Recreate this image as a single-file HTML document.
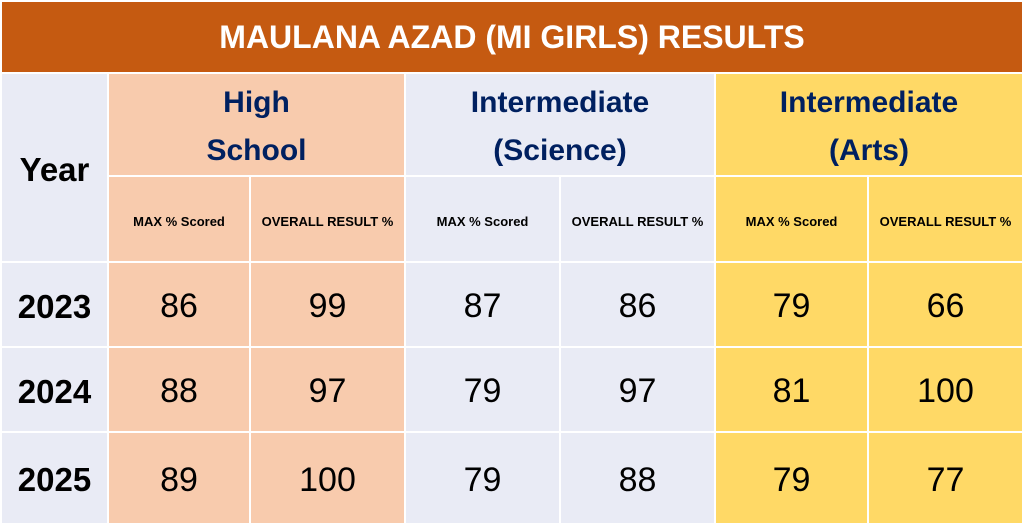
<!DOCTYPE html>
<html><head><meta charset="utf-8"><style>
body{margin:0;width:1024px;height:527px;background:#fff;position:relative;overflow:hidden;font-family:"Liberation Sans",sans-serif}
.c{position:absolute;display:flex;align-items:center;justify-content:center;text-align:center;box-sizing:border-box}
.t{background:#C55A11;color:#fff;font-weight:bold;font-size:32px}
.y{background:#E9EBF5}.h{background:#F8CBAD}.s{background:#E9EBF5}.a{background:#FFD966}
.g{color:#002060;font-weight:bold;font-size:30px;line-height:48px;padding-top:4px}
.sub{font-size:13px;font-weight:bold;color:#000;padding-top:4px}
.n{font-size:34px;color:#000;padding-top:4px}
.yr{font-size:33px;font-weight:bold;color:#000;padding-top:4px}
</style></head><body>
<div class="c t" style="left:2px;top:2px;width:1020px;height:70px">MAULANA AZAD (MI GIRLS) RESULTS</div>
<div class="c y yr" style="left:2px;top:74px;width:105px;height:187px">Year</div>
<div class="c h g" style="left:109px;top:74px;width:295px;height:101px">High<br>School</div>
<div class="c s g" style="left:406px;top:74px;width:308px;height:101px">Intermediate<br>(Science)</div>
<div class="c a g" style="left:716px;top:74px;width:306px;height:101px">Intermediate<br>(Arts)</div>

<div class="c h sub" style="left:109px;top:177px;width:140px;height:84px">MAX % Scored</div>
<div class="c h sub" style="left:251px;top:177px;width:153px;height:84px">OVERALL RESULT %</div>
<div class="c s sub" style="left:406px;top:177px;width:153px;height:84px">MAX % Scored</div>
<div class="c s sub" style="left:561px;top:177px;width:153px;height:84px">OVERALL RESULT %</div>
<div class="c a sub" style="left:716px;top:177px;width:151px;height:84px">MAX % Scored</div>
<div class="c a sub" style="left:869px;top:177px;width:153px;height:84px">OVERALL RESULT %</div>

<div class="c y yr" style="left:2px;top:263px;width:105px;height:83px">2023</div>
<div class="c h n" style="left:109px;top:263px;width:140px;height:83px">86</div>
<div class="c h n" style="left:251px;top:263px;width:153px;height:83px">99</div>
<div class="c s n" style="left:406px;top:263px;width:153px;height:83px">87</div>
<div class="c s n" style="left:561px;top:263px;width:153px;height:83px">86</div>
<div class="c a n" style="left:716px;top:263px;width:151px;height:83px">79</div>
<div class="c a n" style="left:869px;top:263px;width:153px;height:83px">66</div>

<div class="c y yr" style="left:2px;top:348px;width:105px;height:83px">2024</div>
<div class="c h n" style="left:109px;top:348px;width:140px;height:83px">88</div>
<div class="c h n" style="left:251px;top:348px;width:153px;height:83px">97</div>
<div class="c s n" style="left:406px;top:348px;width:153px;height:83px">79</div>
<div class="c s n" style="left:561px;top:348px;width:153px;height:83px">97</div>
<div class="c a n" style="left:716px;top:348px;width:151px;height:83px">81</div>
<div class="c a n" style="left:869px;top:348px;width:153px;height:83px">100</div>

<div class="c y yr" style="left:2px;top:433px;width:105px;height:90px">2025</div>
<div class="c h n" style="left:109px;top:433px;width:140px;height:90px">89</div>
<div class="c h n" style="left:251px;top:433px;width:153px;height:90px">100</div>
<div class="c s n" style="left:406px;top:433px;width:153px;height:90px">79</div>
<div class="c s n" style="left:561px;top:433px;width:153px;height:90px">88</div>
<div class="c a n" style="left:716px;top:433px;width:151px;height:90px">79</div>
<div class="c a n" style="left:869px;top:433px;width:153px;height:90px">77</div>
</body></html>
